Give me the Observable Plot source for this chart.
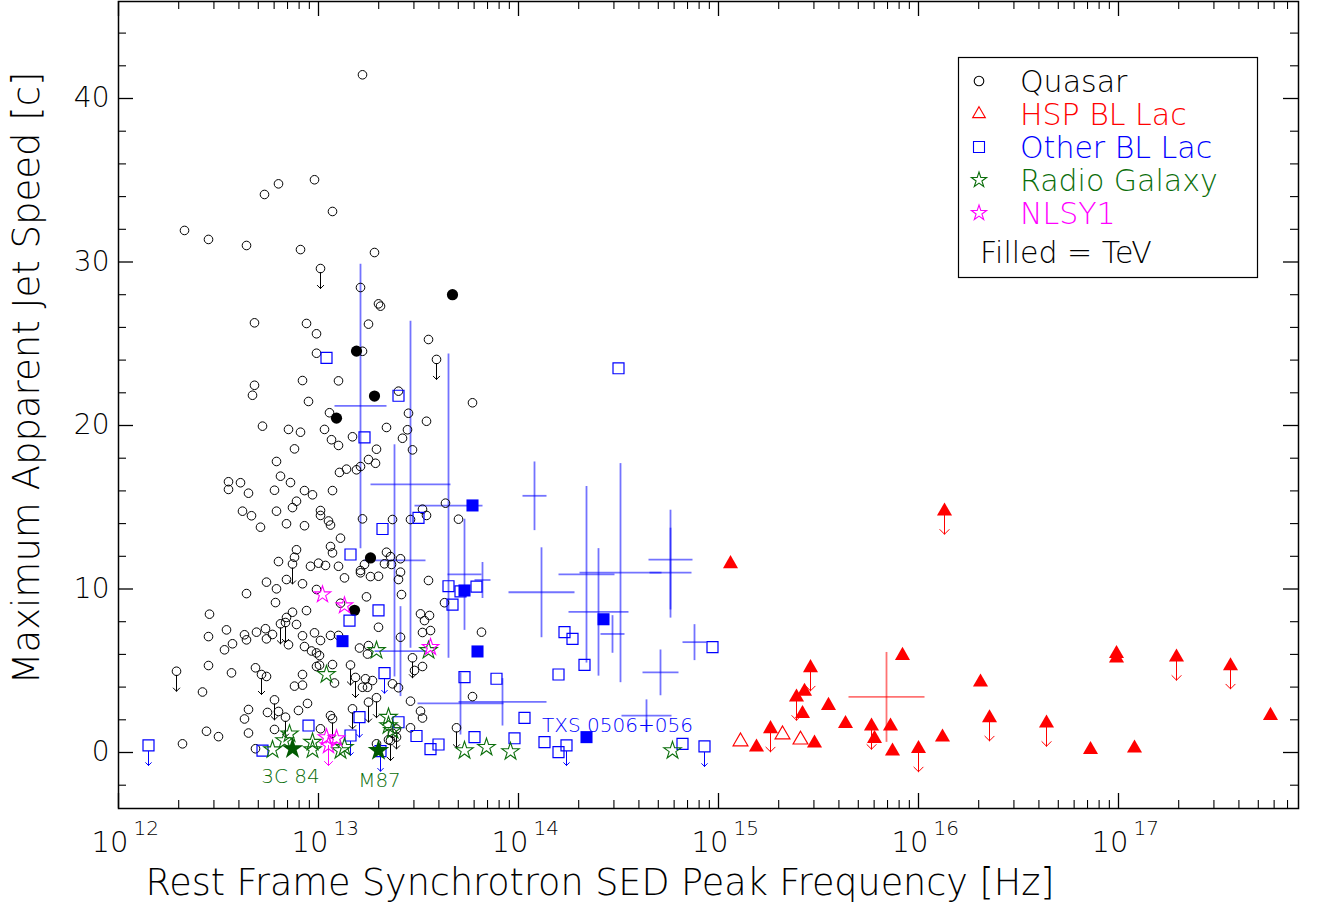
<!DOCTYPE html>
<html><head><meta charset="utf-8">
<script src="https://cdn.jsdelivr.net/npm/d3@7"></script>
<script src="https://cdn.jsdelivr.net/npm/@observablehq/plot@0.6"></script>
<style>
body{margin:0;background:#fff;}
#chart{position:relative;width:1325px;height:903px;}
</style></head><body><div id="chart"></div>
<script>
// ---- data: [log10(rest-frame synchrotron peak frequency / Hz), max apparent speed (c)] ----
const quasar = [[13.22,41.45],[12.73,34.13],[12.80,34.78],[12.98,35.03],[13.07,33.09],[12.33,31.93],[12.45,31.38],[12.64,31.01],[12.91,30.76],[13.28,30.58],[13.21,28.44],[13.30,27.44],[13.31,27.30],[12.68,26.28],[12.94,26.24],[12.99,25.61],[13.25,26.20],[13.55,25.26],[12.99,24.42],[13.22,24.54],[12.68,22.46],[12.67,21.85],[12.92,22.75],[13.10,22.73],[12.95,21.47],[13.40,22.10],[13.77,21.39],[13.055,20.78],[13.45,20.75],[13.54,20.26],[12.72,19.96],[12.85,19.76],[12.91,19.59],[13.03,19.76],[13.065,19.13],[13.10,18.78],[13.17,19.31],[13.34,19.88],[13.445,19.74],[13.42,19.22],[13.29,18.55],[13.47,18.51],[12.88,18.57],[12.79,17.80],[13.25,17.92],[13.285,17.69],[13.14,17.33],[13.105,17.13],[13.19,17.29],[13.21,17.49],[12.55,16.56],[12.55,16.09],[12.61,16.50],[12.65,15.86],[12.81,16.90],[12.86,16.51],[12.78,16.04],[12.93,16.02],[12.97,15.76],[13.07,16.02],[12.89,15.37],[12.87,14.98],[12.62,14.76],[12.665,14.48],[12.79,14.76],[13.01,14.80],[13.01,14.50],[13.05,14.16],[13.06,13.91],[12.84,13.99],[12.93,13.87],[12.71,13.78],[13.22,14.29],[13.11,13.11],[13.37,14.25],[13.46,14.25],[13.52,14.88],[13.54,14.50],[13.635,15.25],[13.70,14.27],[13.06,12.60],[13.07,12.21],[12.89,12.40],[12.88,11.94],[12.80,11.68],[12.96,11.39],[13.00,11.58],[13.035,11.44],[13.10,11.39],[13.23,11.50],[13.21,11.13],[13.21,10.99],[13.26,10.76],[13.30,10.78],[13.13,10.68],[12.84,10.58],[12.92,10.32],[12.74,10.42],[12.79,10.01],[12.64,9.72],[12.785,9.17],[12.99,9.97],[13.24,9.52],[13.34,12.25],[13.36,11.98],[13.41,11.85],[13.33,11.54],[13.365,11.50],[13.41,11.03],[13.40,10.58],[13.55,10.52],[13.415,9.66],[13.63,9.16],[13.11,9.13],[12.455,8.46],[12.87,8.58],[12.84,8.26],[12.89,7.83],[12.94,8.68],[13.30,7.66],[13.41,7.05],[13.51,8.48],[13.555,8.38],[13.53,8.07],[13.52,7.34],[13.56,7.46],[13.815,7.36],[12.54,7.50],[12.45,7.09],[12.57,6.65],[12.53,6.28],[12.63,7.20],[12.64,6.89],[12.69,7.36],[12.735,7.57],[12.74,6.95],[12.77,7.22],[12.85,6.59],[12.92,7.14],[12.98,7.32],[13.01,6.85],[13.06,7.16],[13.10,7.16],[12.93,6.48],[12.965,6.21],[12.99,6.09],[13.005,5.93],[13.205,6.39],[13.25,6.54],[13.245,6.02],[12.45,5.32],[12.565,4.87],[12.685,5.18],[12.74,4.65],[12.42,3.70],[12.92,4.77],[12.92,4.12],[12.88,4.06],[12.99,5.26],[13.005,5.34],[13.07,5.38],[13.08,4.25],[13.235,4.51],[13.27,4.40],[13.245,3.99],[13.22,3.99],[13.37,4.20],[13.40,3.96],[13.48,5.02],[13.52,5.26],[13.46,3.14],[13.51,2.53],[13.52,2.11],[13.77,3.42],[12.745,2.45],[12.80,2.51],[12.65,2.63],[12.63,2.05],[12.65,1.19],[12.44,1.30],[12.50,0.97],[12.32,0.53],[12.685,0.23],[12.78,1.41],[12.90,2.57],[12.945,3.00],[13.06,2.26],[13.01,1.45],[13.37,1.18],[13.39,0.94],[13.29,0.53],[13.35,0.78],[13.46,1.51]];
const quasarLimit = [[13.01,29.60],[13.59,24.04],[12.87,11.53],[12.29,4.97],[12.81,7.87],[12.835,7.95],[12.715,4.77],[13.16,5.35],[13.185,4.59],[13.47,5.79],[12.78,3.22],[12.835,2.16],[13.07,2.06],[13.17,2.67],[13.25,3.08],[13.29,3.35],[13.36,0.73],[13.39,1.44],[13.69,1.51]];
const quasarTeV = [[13.67,28.0],[13.19,24.55],[13.28,21.8],[13.09,20.45],[13.26,11.9],[13.18,8.7]];

const hspTeV = [[15.06,11.54],[15.19,0.32],[15.42,2.37],[15.43,3.73],[15.48,0.57],[15.55,2.87],[15.635,1.76],[15.78,0.84],[15.86,1.61],[15.87,0.08],[15.92,5.93],[16.12,0.94],[16.31,4.30],[16.86,0.17],[16.99,6.04],[16.99,5.77],[17.08,0.26],[17.76,2.26]];
const hspTeVLimit = [[16.13,14.76],[15.26,1.45],[15.39,3.38],[15.46,5.18],[15.765,1.61],[16.00,0.23],[16.355,2.12],[16.64,1.79],[17.29,5.83],[17.56,5.30]];
const hspOther = [[15.11,0.67],[15.32,1.10],[15.41,0.78]];

const otherBL = [[13.04,24.14],[13.23,19.27],[13.40,21.82],[13.32,13.67],[13.50,14.35],[13.16,12.11],[13.155,8.07],[13.30,8.69],[12.95,1.65],[13.40,1.85],[13.49,1.01],[13.56,0.21],[13.60,0.49],[12.72,0.12],[13.65,10.17],[13.71,9.85],[13.79,10.15],[13.67,9.05],[13.73,4.61],[13.89,4.51],[14.03,2.12],[13.78,0.94],[13.98,0.87],[14.13,0.63],[14.20,4.77],[14.23,7.36],[14.27,6.95],[14.33,5.36],[14.20,0.02],[14.50,23.50],[14.82,0.53],[14.97,6.44]];
const otherBLLimit = [[12.15,0.43],[13.33,4.85],[13.205,2.16],[13.16,1.04],[13.31,0.08],[14.24,0.43],[14.93,0.37]];
const otherBLTeV = [[13.12,6.81],[13.77,15.11],[13.73,9.91],[13.795,6.18],[14.425,8.15],[14.34,0.94]];
// crosses: [log10 nu, +/- dex, speed, +/- speed]
const otherBLCross = [[13.21,0.13,21.2,8.7],[13.46,0.20,16.4,10.0],[13.41,0.13,6.2,2.75],[13.38,0.155,11.75,7.1],[13.65,0.17,15.1,9.3],[13.73,0.085,10.9,3.4],[14.08,0.06,15.7,2.1],[13.82,0.04,10.55,1.1],[14.115,0.165,9.8,2.75],[13.71,0.215,3.0,1.9],[13.92,0.22,3.1,1.45],[14.34,0.14,10.9,5.4],[14.40,0.15,8.6,3.9],[14.51,0.205,11.0,6.7],[14.76,0.11,11.8,3.05],[14.76,0.105,11.0,2.75],[14.47,0.06,7.25,1.15],[14.88,0.06,6.75,1.1],[14.71,0.09,4.9,1.4],[14.64,0.125,2.25,1.0]];
const hspCross = [[15.84,0.19,3.4,2.75]];

const radioGalaxy = [[13.04,4.77],[13.29,6.24],[13.55,6.24],[12.77,0.17],[12.855,1.14],[12.97,0.63],[12.97,0.17],[13.11,0.12],[12.83,0.73],[13.13,0.32],[13.35,2.16],[13.35,1.65],[13.37,1.35],[13.73,0.12],[13.84,0.32],[13.96,0.06],[14.77,0.12]];
const radioGalaxyTeV = [[12.87,0.23,"3C 84"],[13.30,0.12,"M87"]];
const nlsy1 = [[13.02,9.66],[13.13,8.99],[13.56,6.44],[13.04,0.92],[13.09,0.86]];
const nlsy1Limit = [[13.05,0.43]];
const txs = [[14.34,0.94,"TXS 0506+056"]];

const xTickExp = [12,13,14,15,16,17];
const yTickMajor = [0,10,20,30,40];
const legendItems = [["Quasar","black","circle"],["HSP BL Lac","#ff0000","triangle"],["Other BL Lac","#0000ff","square"],["Radio Galaxy","#0b6e0b","star"],["NLSY1","#ff00ff","star"]];

// ---- layout ----
const W=1325,H=903,mL=118,mR=27,mT=1,mB=95;
const fw=W-mL-mR, fh=H-mT-mB;
const FONT="'DejaVu Sans', 'Liberation Sans', sans-serif";
const RED="#ff0000", BLUE="#0000ff", GREEN="#0b6e0b", MAG="#ff00ff";
const X=d=>10**d[0], Y=d=>d[1];
const xMajor=xTickExp.map(k=>10**k);
const xMinor=[]; for(const k of xTickExp) for(let m=2;m<=9;m++){const v=m*10**k; if(v<10**17.9) xMinor.push(v);}
const yMinor=[]; for(let v=-2;v<=44;v+=2) if(v%10!==0) yMinor.push(v);

const arrowDown=(data,color,start,len)=>Plot.vector(data,{x:X,y:Y,rotate:180,length:len,anchor:"start",dy:start,stroke:color,strokeWidth:1});
const crossH=(data,color)=>Plot.link(data,{x1:d=>10**(d[0]-d[1]),x2:d=>10**(d[0]+d[1]),y1:d=>d[2],y2:d=>d[2],stroke:color,strokeOpacity:0.55,strokeWidth:1.8});
const crossV=(data,color)=>Plot.link(data,{x1:d=>10**d[0],x2:d=>10**d[0],y1:d=>d[2]-d[3],y2:d=>d[2]+d[3],stroke:color,strokeOpacity:0.55,strokeWidth:1.8});

const plot = Plot.plot({
  width:W,height:H,marginLeft:mL,marginRight:mR,marginTop:mT,marginBottom:mB,
  style:{fontFamily:FONT,fontWeight:300,background:"white",color:"black",overflow:"visible"},
  x:{type:"log",domain:[1e12,10**17.9],axis:null},
  y:{domain:[(752-808)/16.35,(752-1)/16.35],axis:null},
  marks:[
    crossH(otherBLCross,BLUE), crossV(otherBLCross,BLUE),
    crossH(hspCross,RED), crossV(hspCross,RED),
    arrowDown(quasarLimit,"black",4,16),
    arrowDown(otherBLLimit,BLUE,6,14),
    arrowDown(hspTeVLimit,RED,0,23),
    arrowDown(nlsy1Limit,MAG,0,20),
    Plot.dot(quasar,{x:X,y:Y,r:4.3,stroke:"black",strokeWidth:1,fill:"none"}),
    Plot.dot(quasarLimit,{x:X,y:Y,r:4.3,stroke:"black",strokeWidth:1,fill:"none"}),
    Plot.dot(quasarTeV,{x:X,y:Y,r:5.6,fill:"black"}),
    Plot.dot(otherBL.concat(otherBLLimit),{x:X,y:Y,symbol:"square",r:6.2,stroke:BLUE,strokeWidth:1.2,fill:"none"}),
    Plot.dot(otherBLTeV,{x:X,y:Y,symbol:"square",r:6.8,fill:BLUE}),
    Plot.dot(hspOther,{x:X,y:Y,symbol:"triangle",r:5.5,stroke:RED,strokeWidth:1.2,fill:"none"}),
    Plot.dot(hspTeV.concat(hspTeVLimit),{x:X,y:Y,symbol:"triangle",r:5.6,fill:RED}),
    Plot.dot(radioGalaxy,{x:X,y:Y,symbol:"star",r:5.5,stroke:GREEN,strokeWidth:1.1,fill:"none"}),
    Plot.dot(nlsy1.concat(nlsy1Limit),{x:X,y:Y,symbol:"star",r:5.2,stroke:MAG,strokeWidth:1.1,fill:"none"}),
    Plot.dot(radioGalaxyTeV,{x:X,y:Y,symbol:"star",r:6.8,fill:"#005a00"}),
    Plot.text(radioGalaxyTeV.filter(d=>d[2]==="3C 84"),{x:X,y:Y,text:d=>d[2],fill:GREEN,fontSize:20,dx:-2,dy:28,lineAnchor:"middle"}),
    Plot.text(radioGalaxyTeV.filter(d=>d[2]==="M87"),{x:X,y:Y,text:d=>d[2],fill:GREEN,fontSize:20,dx:1,dy:30,lineAnchor:"middle"}),
    Plot.text(txs,{x:X,y:Y,text:d=>d[2],fill:BLUE,fontSize:20,dx:31,dy:-12,lineAnchor:"middle"}),
    // frame + inward ticks
    Plot.frame({stroke:"black",strokeWidth:1.5}),
    Plot.ruleX(xMajor,{x:d=>d,insetTop:fh-15,stroke:"black",strokeWidth:1.3}),
    Plot.ruleX(xMajor,{x:d=>d,insetBottom:fh-15,stroke:"black",strokeWidth:1.3}),
    Plot.ruleX(xMinor,{x:d=>d,insetTop:fh-8,stroke:"black",strokeWidth:1.1}),
    Plot.ruleX(xMinor,{x:d=>d,insetBottom:fh-8,stroke:"black",strokeWidth:1.1}),
    Plot.ruleY(yTickMajor,{y:d=>d,insetRight:fw-15,stroke:"black",strokeWidth:1.3}),
    Plot.ruleY(yTickMajor,{y:d=>d,insetLeft:fw-15,stroke:"black",strokeWidth:1.3}),
    Plot.ruleY(yMinor,{y:d=>d,insetRight:fw-8,stroke:"black",strokeWidth:1.1}),
    Plot.ruleY(yMinor,{y:d=>d,insetLeft:fw-8,stroke:"black",strokeWidth:1.1}),
    // tick labels
    Plot.text(yTickMajor,{y:d=>d,frameAnchor:"left",text:d=>String(d),textAnchor:"end",dx:-9,fontSize:28,lineAnchor:"middle",fill:"black"}),
    Plot.text(xTickExp,{x:d=>10**d,frameAnchor:"bottom",text:()=>"10",textAnchor:"end",dx:10,dy:43,fontSize:29,lineAnchor:"bottom",fill:"black"}),
    Plot.text(xTickExp,{x:d=>10**d,frameAnchor:"bottom",text:d=>String(d),textAnchor:"start",dx:15,dy:26,fontSize:20,lineAnchor:"bottom",fill:"black"}),
    // axis titles
    Plot.text(["Rest Frame Synchrotron SED Peak Frequency [Hz]"],{frameAnchor:"bottom-left",text:d=>d,textAnchor:"start",dx:27,dy:86,fontSize:36.5,lineAnchor:"bottom",fill:"black"}),
    Plot.text(["Maximum Apparent Jet Speed [c]"],{frameAnchor:"left",text:d=>d,rotate:-90,dx:-91,dy:-27,fontSize:37,lineAnchor:"middle",textAnchor:"middle",fill:"black"})
  ]
});
document.getElementById("chart").appendChild(plot);

// ---- legend ----
const g = d3.select(plot).append("g").attr("font-family",FONT).attr("font-weight",300).attr("text-anchor","start");
g.append("rect").attr("x",958.5).attr("y",57.5).attr("width",299).attr("height",220)
  .attr("fill","white").attr("stroke","black").attr("stroke-width",1.2);
const symMap={circle:[d3.symbolCircle,72],triangle:[d3.symbolTriangle,70],square:[d3.symbolSquare,121],star:[d3.symbolStar,72]};
legendItems.forEach(([label,color,sym],i)=>{
  const cy=81+i*33;
  const [s,size]=symMap[sym];
  g.append("path").attr("d",d3.symbol(s,size)()).attr("transform",`translate(979,${cy})`)
    .attr("fill","none").attr("stroke",color).attr("stroke-width",1.1);
  g.append("text").attr("x",1020).attr("y",cy+10.5).attr("font-size",30).attr("fill",color).attr("text-anchor","start").text(label);
});
g.append("text").attr("x",980).attr("y",263).attr("font-size",30).attr("fill","black").attr("text-anchor","start").text("Filled = TeV");
</script></body></html>
